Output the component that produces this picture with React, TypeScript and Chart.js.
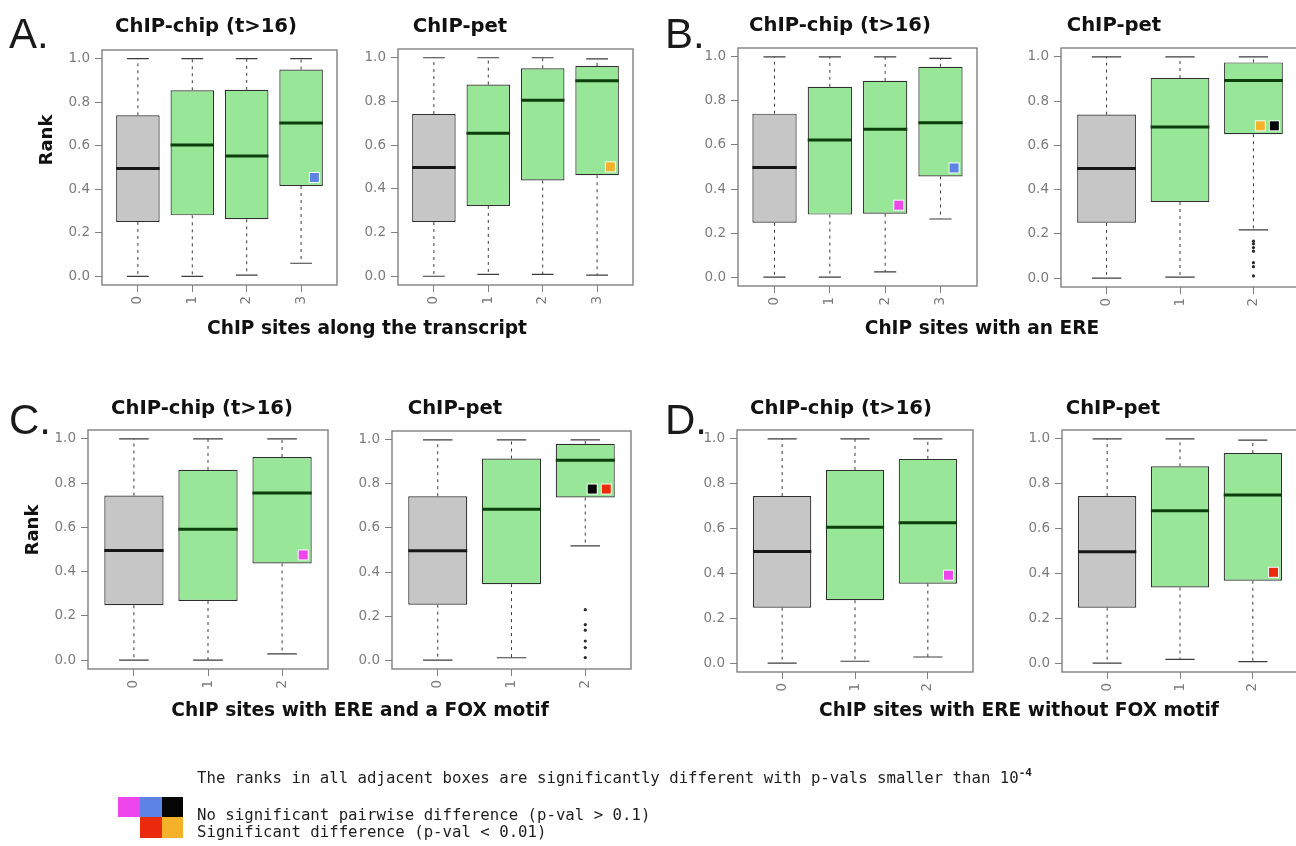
import React, { useEffect, useRef } from 'react';
import { Chart, registerables } from 'chart.js';

Chart.register(...registerables);

// ---------- data ----------
const CATS_4 = ['0', '1', '2', '3'];
const CATS_3 = ['0', '1', '2'];
const Y_TICKS = [0, 0.2, 0.4, 0.6, 0.8, 1.0];

// each box: [lower whisker, Q1, median, Q3, upper whisker]
const A_CHIP = [
  [0.0, 0.25, 0.495, 0.74, 1.0],
  [0.0, 0.28, 0.603, 0.855, 1.0],
  [0.005, 0.262, 0.553, 0.857, 1.0],
  [0.06, 0.415, 0.705, 0.95, 1.0],
];
const A_PET = [
  [0.0, 0.248, 0.498, 0.742, 1.0],
  [0.009, 0.322, 0.655, 0.877, 1.0],
  [0.009, 0.438, 0.806, 0.952, 1.0],
  [0.005, 0.462, 0.895, 0.962, 0.995],
];
const B_CHIP = [
  [0.0, 0.247, 0.498, 0.742, 1.0],
  [0.0, 0.284, 0.622, 0.864, 1.0],
  [0.024, 0.288, 0.671, 0.891, 1.0],
  [0.264, 0.457, 0.701, 0.955, 0.993],
];
const B_PET = [
  [0.0, 0.25, 0.496, 0.739, 1.0],
  [0.005, 0.344, 0.683, 0.904, 1.0],
  [0.218, 0.65, 0.893, 0.975, 1.0],
];
const C_CHIP = [
  [0.0, 0.248, 0.496, 0.744, 1.0],
  [0.0, 0.267, 0.592, 0.86, 1.0],
  [0.028, 0.437, 0.755, 0.918, 1.0],
];
const C_PET = [
  [0.0, 0.252, 0.497, 0.744, 1.0],
  [0.011, 0.345, 0.685, 0.915, 1.0],
  [0.519, 0.738, 0.907, 0.982, 1.0],
];
const D_CHIP = [
  [0.0, 0.247, 0.498, 0.745, 1.0],
  [0.008, 0.28, 0.606, 0.862, 1.0],
  [0.027, 0.354, 0.626, 0.911, 1.0],
];
const D_PET = [
  [0.0, 0.247, 0.497, 0.745, 1.0],
  [0.016, 0.337, 0.68, 0.878, 1.0],
  [0.006, 0.367, 0.75, 0.937, 0.995],
];

// outliers per box
const B_PET_OUTLIERS = [[], [], [0.167, 0.155, 0.138, 0.122, 0.07, 0.052, 0.01]];
const C_PET_OUTLIERS = [[], [], [0.229, 0.161, 0.136, 0.087, 0.057, 0.012]];
const NO_OUTLIERS: number[][] = [];

// significance flags: [box index, colour key], listed left to right
const A_CHIP_FLAGS: [number, string][] = [[3, 'blue']];
const A_PET_FLAGS: [number, string][] = [[3, 'orange']];
const B_CHIP_FLAGS: [number, string][] = [[2, 'magenta'], [3, 'blue']];
const B_PET_FLAGS: [number, string][] = [[2, 'orange'], [2, 'black']];
const C_CHIP_FLAGS: [number, string][] = [[2, 'magenta']];
const C_PET_FLAGS: [number, string][] = [[2, 'black'], [2, 'red']];
const D_CHIP_FLAGS: [number, string][] = [[2, 'magenta']];
const D_PET_FLAGS: [number, string][] = [[2, 'red']];

const TITLE_CHIP = 'ChIP-chip (t>16)';
const TITLE_PET = 'ChIP-pet';
const X_LABELS = [
  'ChIP sites along the transcript',
  'ChIP sites with an ERE',
  'ChIP sites with ERE and a FOX motif',
  'ChIP sites with ERE without FOX motif',
];
const LEGEND_TOP = 'The ranks in all adjacent boxes are significantly different with p-vals smaller than 10';
const LEGEND_EXP = '-4';
const LEGEND_NS = 'No significant pairwise difference (p-val > 0.1)';
const LEGEND_SIG = 'Significant difference (p-val < 0.01)';

// ---------- styles ----------
const FLAG_COLORS: Record<string, string> = {
  magenta: '#ec46ec',
  blue: '#5d84e4',
  black: '#050505',
  red: '#ec2a0e',
  orange: '#f6b12a',
};
const GRAY_FILL = '#c6c6c6';
const GREEN_FILL = '#98e798';
const AXIS = '#808080';
const TICK_TXT = '#7c7c7c';
const PAD_L = 50;
const PAD_T = 14;
const PAD_R = 12;
const PAD_B = 42;

type Frame = [number, number, number, number];
interface PanelDef {
  cats: string[];
  boxes: number[][];
  outliers: number[][];
  flags: [number, string][];
  frame: Frame;
}

const PANELS: PanelDef[] = [
  { cats: CATS_4, boxes: A_CHIP, outliers: NO_OUTLIERS, flags: A_CHIP_FLAGS, frame: [102, 50, 337, 285] },
  { cats: CATS_4, boxes: A_PET, outliers: NO_OUTLIERS, flags: A_PET_FLAGS, frame: [398, 49, 633, 285] },
  { cats: CATS_4, boxes: B_CHIP, outliers: NO_OUTLIERS, flags: B_CHIP_FLAGS, frame: [738, 48, 977, 286] },
  { cats: CATS_3, boxes: B_PET, outliers: B_PET_OUTLIERS, flags: B_PET_FLAGS, frame: [1061, 48, 1299, 287] },
  { cats: CATS_3, boxes: C_CHIP, outliers: NO_OUTLIERS, flags: C_CHIP_FLAGS, frame: [88, 430, 328, 669] },
  { cats: CATS_3, boxes: C_PET, outliers: C_PET_OUTLIERS, flags: C_PET_FLAGS, frame: [392, 431, 631, 669] },
  { cats: CATS_3, boxes: D_CHIP, outliers: NO_OUTLIERS, flags: D_CHIP_FLAGS, frame: [737, 430, 973, 672] },
  { cats: CATS_3, boxes: D_PET, outliers: NO_OUTLIERS, flags: D_PET_FLAGS, frame: [1062, 430, 1298, 672] },
];

function BoxPanel({ def }: { def: PanelDef }) {
  const ref = useRef<HTMLCanvasElement>(null);
  const [l, t, r, b] = def.frame;
  const w = r - l + PAD_L + PAD_R;
  const h = b - t + PAD_T + PAD_B;

  useEffect(() => {
    const canvas = ref.current;
    if (!canvas) return;
    const { cats, boxes, outliers, flags } = def;
    const n = cats.length;
    const ext = 0.04 * n;

    const extras = {
      id: 'boxExtras',
      beforeDatasetsDraw(chart: any) {
        const ctx = chart.ctx;
        const xs = chart.scales.x;
        const ys = chart.scales.y;
        const meta = chart.getDatasetMeta(0);
        ctx.save();
        boxes.forEach((bx, i) => {
          const x = xs.getPixelForValue(i);
          const bw = meta.data[i].width;
          const yLo = ys.getPixelForValue(bx[0]);
          const yQ1 = ys.getPixelForValue(bx[1]);
          const yQ3 = ys.getPixelForValue(bx[3]);
          const yHi = ys.getPixelForValue(bx[4]);
          ctx.strokeStyle = '#3c3c3c';
          ctx.lineWidth = 1;
          ctx.setLineDash([3, 4]);
          ctx.beginPath();
          ctx.moveTo(x, yQ1);
          ctx.lineTo(x, yLo);
          ctx.moveTo(x, yQ3);
          ctx.lineTo(x, yHi);
          ctx.stroke();
          ctx.setLineDash([]);
          ctx.lineWidth = 1.2;
          ctx.beginPath();
          ctx.moveTo(x - bw / 4, yLo);
          ctx.lineTo(x + bw / 4, yLo);
          ctx.moveTo(x - bw / 4, yHi);
          ctx.lineTo(x + bw / 4, yHi);
          ctx.stroke();
        });
        ctx.restore();
      },
      afterDatasetsDraw(chart: any) {
        const ctx = chart.ctx;
        const xs = chart.scales.x;
        const ys = chart.scales.y;
        const meta = chart.getDatasetMeta(0);
        ctx.save();
        boxes.forEach((bx, i) => {
          const x = xs.getPixelForValue(i);
          const bw = meta.data[i].width;
          const yMed = ys.getPixelForValue(bx[2]);
          ctx.strokeStyle = i === 0 ? '#161616' : '#0c3f0c';
          ctx.lineWidth = 3;
          ctx.beginPath();
          ctx.moveTo(x - bw / 2, yMed);
          ctx.lineTo(x + bw / 2, yMed);
          ctx.stroke();
          (outliers[i] || []).forEach((v) => {
            ctx.fillStyle = '#2a2a2a';
            ctx.beginPath();
            ctx.arc(x, ys.getPixelForValue(v), 1.6, 0, Math.PI * 2);
            ctx.fill();
          });
          const mine = flags.filter((f) => f[0] === i);
          mine.forEach((f, k) => {
            const slot = mine.length - 1 - k;
            const cx = x + bw / 2 - 8.5 - slot * 14;
            const cy = ys.getPixelForValue(bx[1]) - 8.5;
            ctx.fillStyle = '#f4fbf4';
            ctx.fillRect(cx - 5.5, cy - 5.5, 11, 11);
            ctx.fillStyle = FLAG_COLORS[f[1]];
            ctx.fillRect(cx - 4.5, cy - 4.5, 9, 9);
          });
        });
        const a = chart.chartArea;
        ctx.strokeStyle = AXIS;
        ctx.lineWidth = 1.4;
        ctx.strokeRect(a.left, a.top, a.right - a.left, a.bottom - a.top);
        ctx.restore();
      },
    };

    const chart = new Chart(canvas, {
      type: 'bar',
      data: {
        datasets: [
          {
            data: boxes.map((bx, i) => ({ x: i, y: [bx[1], bx[3]] })) as any,
            backgroundColor: boxes.map((_, i) => (i === 0 ? GRAY_FILL : GREEN_FILL)),
            borderColor: '#2e2e2e',
            borderWidth: 1.2,
            borderSkipped: false,
            barPercentage: 0.8,
            categoryPercentage: 1,
          } as any,
        ],
      },
      options: {
        responsive: false,
        animation: false,
        events: [],
        layout: { padding: { left: 0, top: PAD_T, right: PAD_R, bottom: 0 } },
        plugins: { legend: { display: false }, tooltip: { enabled: false }, title: { display: false } },
        scales: {
          x: {
            type: 'linear',
            min: -0.5 - ext,
            max: n - 0.5 + ext,
            offset: false,
            afterBuildTicks: (axis: any) => {
              axis.ticks = cats.map((_, i) => ({ value: i }));
            },
            afterFit: (axis: any) => {
              axis.height = PAD_B;
            },
            grid: { display: true, drawOnChartArea: false, drawTicks: true, tickLength: 7, color: AXIS, offset: false },
            border: { display: false },
            ticks: {
              autoSkip: false,
              minRotation: 90,
              maxRotation: 90,
              padding: 4,
              color: TICK_TXT,
              font: { family: 'DejaVu Sans', size: 13.5 },
              callback: (v: any) => cats[Math.round(Number(v))],
            },
          },
          y: {
            type: 'linear',
            min: -0.04,
            max: 1.04,
            afterBuildTicks: (axis: any) => {
              axis.ticks = Y_TICKS.map((v) => ({ value: v }));
            },
            afterFit: (axis: any) => {
              axis.width = PAD_L;
            },
            grid: { display: true, drawOnChartArea: false, drawTicks: true, tickLength: 7, color: AXIS },
            border: { display: false },
            ticks: {
              padding: 5,
              color: TICK_TXT,
              font: { family: 'DejaVu Sans', size: 13.5 },
              callback: (v: any) => Number(v).toFixed(1),
            },
          },
        } as any,
      },
      plugins: [extras],
    });
    return () => chart.destroy();
  }, [def]);

  return (
    <canvas
      ref={ref}
      width={w}
      height={h}
      style={{ position: 'absolute', left: l - PAD_L, top: t - PAD_T, width: w, height: h }}
    />
  );
}

export default function App() {
  return (
    <div
      style={{
        position: 'fixed',
        left: 0,
        top: 0,
        width: 1296,
        height: 846,
        overflow: 'hidden',
        background: '#ffffff',
      }}
    >
      {PANELS.map((p, i) => (
        <BoxPanel key={i} def={p} />
      ))}
      <svg
        width={1296}
        height={846}
        style={{ position: 'absolute', left: 0, top: 0, pointerEvents: 'none' }}
      >
        {/* panel letters */}
        <g fontFamily="Liberation Sans" fontSize={42} fill="#1a1a1a">
          <text x={9} y={48}>A.</text>
          <text x={665} y={48}>B.</text>
          <text x={9} y={434}>C.</text>
          <text x={665} y={434}>D.</text>
        </g>
        {/* panel titles */}
        <g fontFamily="DejaVu Sans" fontWeight={700} fontSize={19.6} fill="#111" textAnchor="middle" dominantBaseline="central">
          <text x={206} y={25}>{TITLE_CHIP}</text>
          <text x={460} y={25}>{TITLE_PET}</text>
          <text x={840} y={24}>{TITLE_CHIP}</text>
          <text x={1114} y={24}>{TITLE_PET}</text>
          <text x={202} y={407}>{TITLE_CHIP}</text>
          <text x={455} y={407}>{TITLE_PET}</text>
          <text x={841} y={407}>{TITLE_CHIP}</text>
          <text x={1113} y={407}>{TITLE_PET}</text>
        </g>
        {/* axis labels */}
        <g fontFamily="DejaVu Sans" fontWeight={700} fontSize={18.6} fill="#111" textAnchor="middle" dominantBaseline="central">
          <text x={367} y={327}>{X_LABELS[0]}</text>
          <text x={982} y={327}>{X_LABELS[1]}</text>
          <text x={360} y={709}>{X_LABELS[2]}</text>
          <text x={1019} y={709}>{X_LABELS[3]}</text>
        </g>
        <g fontFamily="DejaVu Sans" fontWeight={700} fontSize={18} fill="#111" textAnchor="middle" dominantBaseline="central">
          <text x={45} y={140} transform="rotate(-90 45 140)">Rank</text>
          <text x={31} y={530} transform="rotate(-90 31 530)">Rank</text>
        </g>
        {/* legend */}
        <rect x={118} y={797} width={22} height={20} fill={FLAG_COLORS.magenta} />
        <rect x={140} y={797} width={22} height={20} fill={FLAG_COLORS.blue} />
        <rect x={162} y={797} width={21} height={20} fill={FLAG_COLORS.black} />
        <rect x={140} y={817} width={22} height={21} fill={FLAG_COLORS.red} />
        <rect x={162} y={817} width={21} height={21} fill={FLAG_COLORS.orange} />
        <g fontFamily="DejaVu Sans Mono" fontSize={15.7} fill="#1e1e1e" dominantBaseline="central">
          <text x={197} y={777}>
            {LEGEND_TOP}
            <tspan fontWeight={700} fontSize={11} dy={-5}>{LEGEND_EXP}</tspan>
          </text>
          <text x={197} y={814}>{LEGEND_NS}</text>
          <text x={197} y={831}>{LEGEND_SIG}</text>
        </g>
      </svg>
    </div>
  );
}
